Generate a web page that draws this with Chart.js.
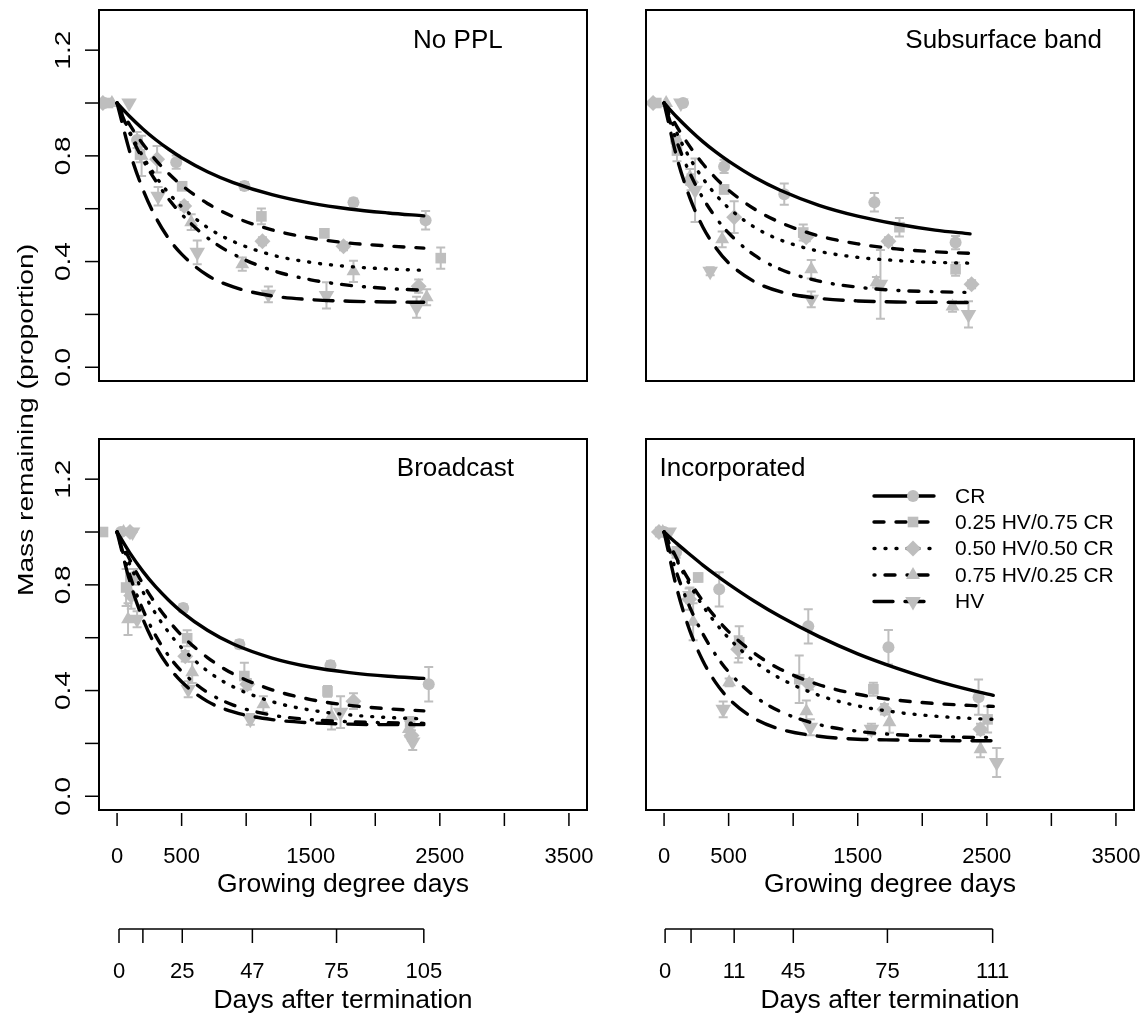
<!DOCTYPE html>
<html>
<head>
<meta charset="utf-8">
<script src="https://cdn.jsdelivr.net/npm/chart.js@4.4.0/dist/chart.umd.min.js"></script>
<style>
  html, body { margin: 0; padding: 0; background: #fff; }
  #wrap { position: relative; width: 1146px; height: 1017px; }
  #wrap canvas { position: absolute; left: 0; top: 0; }
</style>
</head>
<body>
<div id="wrap">
  <canvas id="pNoPPL" width="1146" height="1017"></canvas>
  <canvas id="pSub" width="1146" height="1017"></canvas>
  <canvas id="pBroad" width="1146" height="1017"></canvas>
  <canvas id="pInc" width="1146" height="1017"></canvas>
</div>
<script>
// ---- data ----
const treatments = ["CR", "0.25 HV/0.75 CR", "0.50 HV/0.50 CR", "0.75 HV/0.25 CR", "HV"];

const gddTicks = [0, 500, 1000, 1500, 2000, 2500, 3000, 3500];
const gddTickLabels = ["0", "500", "", "1500", "", "2500", "", "3500"];
const massTicks = [0, 0.2, 0.4, 0.6, 0.8, 1.0, 1.2];
const massTickLabels = ["0.0", "", "0.4", "", "0.8", "", "1.2"];

// days after termination, placed at their GDD
const daysGddLeft = [15, 200, 505, 1048, 1700, 2376];
const daysLabelsLeft = ["0", "", "25", "47", "75", "105"];
const daysGddRight = [8, 209, 543, 1001, 1730, 2545];
const daysLabelsRight = ["0", "", "11", "45", "75", "111"];

// fitted curves, one row per treatment
const curveGddNoPPL = [0, 100, 200, 300, 400, 500, 700, 900, 1200, 1500, 1800, 2100, 2376];
const noPplFit = [
  [1, .948, .902, .861, .825, .793, .740, .699, .653, .621, .599, .584, .573],
  [1, .916, .845, .784, .733, .689, .620, .570, .520, .489, .470, .459, .451],
  [1, .889, .798, .722, .659, .608, .529, .476, .425, .397, .381, .372, .367],
  [1, .884, .786, .705, .636, .579, .490, .428, .367, .331, .310, .298, .291],
  [1, .813, .673, .567, .487, .428, .348, .304, .270, .256, .250, .247, .246]
];
const curveGddSub = [0, 100, 200, 300, 400, 500, 700, 900, 1200, 1500, 1800, 2100, 2370];
const subFit = [
  [1, .946, .898, .854, .815, .780, .719, .670, .613, .572, .542, .519, .505],
  [1, .910, .835, .770, .716, .670, .599, .548, .497, .467, .448, .437, .431],
  [1, .885, .791, .715, .653, .603, .530, .482, .439, .416, .404, .397, .394],
  [1, .852, .734, .641, .567, .508, .424, .371, .326, .303, .291, .286, .283],
  [1, .792, .641, .531, .453, .395, .324, .286, .261, .251, .247, .246, .245]
];
const curveGddBroad = [0, 100, 200, 300, 400, 500, 700, 900, 1200, 1500, 1800, 2100, 2376];
const broadFit = [
  [1, .920, .851, .792, .742, .698, .628, .576, .523, .489, .468, .454, .446],
  [1, .894, .804, .728, .664, .609, .525, .463, .403, .366, .344, .331, .323],
  [1, .876, .774, .690, .620, .562, .474, .414, .358, .326, .308, .298, .293],
  [1, .834, .706, .607, .531, .473, .393, .345, .307, .290, .282, .278, .276],
  [1, .811, .671, .567, .490, .433, .359, .319, .290, .278, .273, .271, .271]
];
const curveGddInc = [0, 100, 200, 300, 400, 500, 700, 900, 1200, 1500, 1800, 2100, 2400, 2550];
const incFit = [
  [1, .956, .915, .875, .838, .803, .738, .680, .604, .539, .485, .438, .399, .382],
  [1, .898, .812, .739, .676, .623, .541, .481, .422, .386, .364, .351, .343, .340],
  [1, .892, .800, .721, .655, .599, .510, .446, .382, .342, .318, .303, .294, .291],
  [1, .842, .715, .615, .535, .471, .379, .321, .271, .246, .233, .227, .223, .223],
  [1, .784, .626, .513, .430, .370, .294, .254, .227, .216, .213, .211, .210, .210]
];

// observed means (GDD, proportion, +/- error)
const noPplGdd = [
  [-100, 155, 458, 986, 1831, 2390],
  [-70, 178, 504, 1118, 1606, 2507],
  [-110, 310, 520, 1126, 1754, 2336],
  [-40, 190, 574, 970, 1831, 2398],
  [93, 318, 621, 1172, 1622, 2320]
];
const noPplMass = [
  [1.0, .86, .776, .686, .624, .556],
  [1.0, .806, .685, .571, .507, .413],
  [1.0, .787, .61, .477, .458, .307],
  [1.0, .80, .549, .39, .363, .265],
  [1.0, .647, .435, .276, .272, .227]
];
const noPplErr = [
  [0, .03, .025, .015, .015, .035],
  [0, .03, .015, .03, .015, .04],
  [0, .05, .015, .015, .015, .025],
  [0, .076, .03, .025, .04, .03],
  [0, .035, .045, .03, .05, .04]
];

const subGdd = [
  [147, 93, 465, 931, 1629, 2258],
  [-60, 100, 465, 1078, 1823, 2258],
  [-85, 209, 543, 1101, 1738, 2382],
  [16, 200, 450, 1140, 1645, 2234],
  [130, 240, 357, 1140, 1676, 2358]
];
const subMass = [
  [1.0, .855, .76, .655, .624, .472],
  [1.0, .82, .673, .51, .53, .371],
  [1.0, .70, .568, .492, .477, .314],
  [1.0, .72, .484, .371, .322, .23],
  [1.0, .67, .363, .257, .314, .20]
];
const subErr = [
  [0, .02, .025, .04, .035, .025],
  [0, .04, .015, .03, .035, .025],
  [0, .03, .06, .015, .015, .015],
  [0, .03, .03, .035, .02, .02],
  [0, .12, .015, .03, .13, .05]
];

const broadGdd = [
  [30, 130, 512, 947, 1653, 2414],
  [-109, 70, 543, 986, 1630, 2270],
  [100, 110, 528, 1009, 1831, 2280],
  [50, 85, 582, 1133, 1661, 2260],
  [120, 155, 551, 1032, 1731, 2290]
];
const broadMass = [
  [1.0, .83, .712, .575, .496, .424],
  [1.0, .79, .598, .455, .397, .28],
  [1.0, .76, .53, .424, .36, .23],
  [1.0, .67, .469, .348, .303, .255],
  [1.0, .67, .405, .291, .318, .205]
];
const broadErr = [
  [0, .03, .015, .015, .015, .065],
  [0, .07, .03, .05, .02, .02],
  [0, .05, .02, .02, .03, .02],
  [0, .06, .04, .03, .05, .03],
  [0, .03, .03, .02, .06, .03]
];

const incGdd = [
  [0, 93, 427, 1117, 1738, 2436],
  [-30, 264, 582, 1047, 1621, 2506],
  [-40, 194, 574, 1125, 1707, 2451],
  [-10, 225, 504, 1102, 1746, 2451],
  [40, 200, 458, 1133, 1606, 2576]
];
const incMass = [
  [1.0, .923, .783, .643, .564, .375],
  [1.0, .828, .583, .443, .405, .291],
  [1.0, .746, .556, .424, .329, .254],
  [1.0, .66, .431, .322, .28, .178],
  [1.0, .76, .329, .261, .254, .128]
];
const incErr = [
  [0, .02, .065, .065, .065, .067],
  [0, .015, .06, .09, .025, .05],
  [0, .04, .05, .02, .02, .02],
  [0, .07, .015, .04, .04, .03],
  [0, .03, .03, .03, .02, .055]
];

// ---- styles ----
const INK = "#000000";
const GREY = "#BEBEBE";
const FONT = '"Liberation Sans", Arial, Helvetica, sans-serif';
const pointStyles = ["circle", "rect", "rectRot", "triangle", "triangle"];
const pointRotations = [0, 0, 0, 0, 180];
const pointSizes = [6, 7.5, 8, 8, 9];
const lineDashes = [[], [10, 12], [1, 10], [1, 10, 10, 12], [19, 12]];

function makeDatasets(curveGdd, fits, gdd, mass, err) {
  const sets = [];
  fits.forEach((row, t) => {
    sets.push({
      label: treatments[t] + " fit",
      data: curveGdd.map((g, i) => ({ x: g, y: row[i] })),
      showLine: true,
      borderColor: INK,
      borderWidth: 3.4,
      borderDash: lineDashes[t],
      borderCapStyle: "round",
      cubicInterpolationMode: "monotone",
      pointRadius: 0,
      fill: false,
      order: 0
    });
  });
  gdd.forEach((xs, t) => {
    sets.push({
      label: treatments[t],
      data: xs.map((g, i) => ({ x: g, y: mass[t][i], err: err[t][i] })),
      showLine: false,
      pointStyle: pointStyles[t],
      rotation: pointRotations[t],
      pointRadius: pointSizes[t],
      backgroundColor: GREY,
      borderColor: GREY,
      borderWidth: 0,
      isObs: true,
      order: 1
    });
  });
  return sets;
}

// rotated text, drawn a little long as in the original
function rotText(ctx, txt, x, y, size, stretch) {
  ctx.save();
  ctx.translate(x, y);
  ctx.rotate(-Math.PI / 2);
  ctx.scale(stretch, 1);
  ctx.font = size + "px " + FONT;
  ctx.textAlign = "center";
  ctx.textBaseline = "middle";
  ctx.fillStyle = INK;
  ctx.fillText(txt, 0, 0);
  ctx.restore();
}

function drawMarker(ctx, t, x, y) {
  const r = pointSizes[t];
  ctx.save();
  ctx.fillStyle = GREY;
  ctx.beginPath();
  if (t === 0) {
    ctx.arc(x, y, r, 0, Math.PI * 2);
  } else if (t === 1) {
    const s = r * Math.SQRT1_2;
    ctx.rect(x - s, y - s, 2 * s, 2 * s);
  } else if (t === 2) {
    ctx.moveTo(x - r, y); ctx.lineTo(x, y - r); ctx.lineTo(x + r, y); ctx.lineTo(x, y + r);
  } else {
    const sgn = t === 3 ? 1 : -1;
    ctx.moveTo(x, y - sgn * r);
    ctx.lineTo(x + r * 0.866, y + sgn * r * 0.5);
    ctx.lineTo(x - r * 0.866, y + sgn * r * 0.5);
  }
  ctx.closePath();
  ctx.fill();
  ctx.restore();
}

// panel decorations: box, error bars, axes, titles, legend
const panelPlugin = {
  id: "panelDeco",
  beforeDatasetsDraw(chart) {
    const ctx = chart.ctx, xs = chart.scales.x, ys = chart.scales.y;
    ctx.save();
    ctx.strokeStyle = GREY;
    ctx.lineWidth = 2;
    chart.data.datasets.forEach(ds => {
      if (!ds.isObs) return;
      ds.data.forEach(p => {
        if (!p.err) return;
        const px = xs.getPixelForValue(p.x);
        const y1 = ys.getPixelForValue(p.y - p.err);
        const y2 = ys.getPixelForValue(p.y + p.err);
        ctx.beginPath();
        ctx.moveTo(px, y1); ctx.lineTo(px, y2);
        ctx.moveTo(px - 4.5, y1); ctx.lineTo(px + 4.5, y1);
        ctx.moveTo(px - 4.5, y2); ctx.lineTo(px + 4.5, y2);
        ctx.stroke();
      });
    });
    ctx.restore();
  },
  afterDraw(chart) {
    const o = chart.options.plugins.panelDeco;
    const ctx = chart.ctx, a = chart.chartArea, xs = chart.scales.x, ys = chart.scales.y;
    ctx.save();
    ctx.strokeStyle = INK;
    ctx.fillStyle = INK;
    ctx.lineWidth = 2;
    ctx.strokeRect(a.left, a.top, a.right - a.left, a.bottom - a.top);

    // panel title
    ctx.font = "26px " + FONT;
    ctx.textAlign = o.titleAlign;
    ctx.textBaseline = "middle";
    ctx.fillText(o.title, xs.getPixelForValue(o.titleAt[0]), ys.getPixelForValue(o.titleAt[1]));

    if (o.leftAxis) {
      ctx.lineWidth = 1.5;
      massTicks.forEach((v, i) => {
        const py = ys.getPixelForValue(v);
        ctx.beginPath(); ctx.moveTo(a.left - 14, py); ctx.lineTo(a.left, py); ctx.stroke();
        if (massTickLabels[i]) rotText(ctx, massTickLabels[i], a.left - 35, py, 22, 1.27);
      });
    }
    if (o.yTitle) rotText(ctx, "Mass remaining (proportion)", 27, 420, 22, 1.28);

    if (o.bottomAxis) {
      ctx.lineWidth = 1.5;
      const t0 = a.bottom + 3, t1 = a.bottom + 16;
      ctx.font = "22px " + FONT;
      ctx.textAlign = "center";
      ctx.textBaseline = "middle";
      gddTicks.forEach((v, i) => {
        const px = xs.getPixelForValue(v);
        ctx.beginPath(); ctx.moveTo(px, t0); ctx.lineTo(px, t1); ctx.stroke();
        if (gddTickLabels[i]) ctx.fillText(gddTickLabels[i], px, a.bottom + 47);
      });
      const mid = (a.left + a.right) / 2;
      ctx.font = "26.5px " + FONT;
      ctx.fillText("Growing degree days", mid, a.bottom + 75);

      // days after termination axis
      const dy = a.bottom + 119;
      const dg = o.daysGdd, dl = o.daysLabels;
      ctx.beginPath();
      ctx.moveTo(xs.getPixelForValue(dg[0]), dy);
      ctx.lineTo(xs.getPixelForValue(dg[dg.length - 1]), dy);
      ctx.stroke();
      ctx.font = "22px " + FONT;
      dg.forEach((g, i) => {
        const px = xs.getPixelForValue(g);
        ctx.beginPath(); ctx.moveTo(px, dy); ctx.lineTo(px, dy + 14); ctx.stroke();
        if (dl[i]) ctx.fillText(dl[i], px, dy + 43);
      });
      ctx.font = "26.5px " + FONT;
      ctx.fillText("Days after termination", mid, dy + 72);
    }

    if (o.legend) {
      const rows = [496, 522, 548.5, 575, 601.5];
      ctx.font = "21px " + FONT;
      ctx.textAlign = "left";
      ctx.textBaseline = "middle";
      treatments.forEach((name, t) => {
        const y = rows[t];
        ctx.save();
        ctx.strokeStyle = INK;
        ctx.lineWidth = 3.4;
        ctx.lineCap = "round";
        ctx.setLineDash(lineDashes[t]);
        ctx.beginPath(); ctx.moveTo(874, y); ctx.lineTo(934, y); ctx.stroke();
        ctx.restore();
        drawMarker(ctx, t, 913, y);
        ctx.fillStyle = INK;
        ctx.fillText(name, 955, y + 1);
      });
    }
    ctx.restore();
  }
};

function makePanel(id, pad, datasets, deco) {
  return new Chart(document.getElementById(id), {
    type: "scatter",
    data: { datasets: datasets },
    options: {
      responsive: false,
      animation: false,
      devicePixelRatio: 1,
      events: [],
      layout: { padding: pad },
      scales: {
        x: { type: "linear", min: -140, max: 3640, display: false },
        y: { type: "linear", min: -0.052, max: 1.352, display: false }
      },
      plugins: { legend: { display: false }, tooltip: { enabled: false }, panelDeco: deco }
    },
    plugins: [panelPlugin]
  });
}

makePanel("pNoPPL", { left: 99, top: 10, right: 559, bottom: 636 },
  makeDatasets(curveGddNoPPL, noPplFit, noPplGdd, noPplMass, noPplErr),
  { title: "No PPL", titleAt: [2640, 1.235], titleAlign: "center", leftAxis: true });

makePanel("pSub", { left: 646, top: 10, right: 12, bottom: 636 },
  makeDatasets(curveGddSub, subFit, subGdd, subMass, subErr),
  { title: "Subsurface band", titleAt: [2630, 1.235], titleAlign: "center" });

makePanel("pBroad", { left: 99, top: 439, right: 559, bottom: 207 },
  makeDatasets(curveGddBroad, broadFit, broadGdd, broadMass, broadErr),
  { title: "Broadcast", titleAt: [2620, 1.238], titleAlign: "center", leftAxis: true, yTitle: true,
    bottomAxis: true, daysGdd: daysGddLeft, daysLabels: daysLabelsLeft });

makePanel("pInc", { left: 646, top: 439, right: 12, bottom: 207 },
  makeDatasets(curveGddInc, incFit, incGdd, incMass, incErr),
  { title: "Incorporated", titleAt: [530, 1.238], titleAlign: "center", legend: true,
    bottomAxis: true, daysGdd: daysGddRight, daysLabels: daysLabelsRight });
</script>
</body>
</html>
